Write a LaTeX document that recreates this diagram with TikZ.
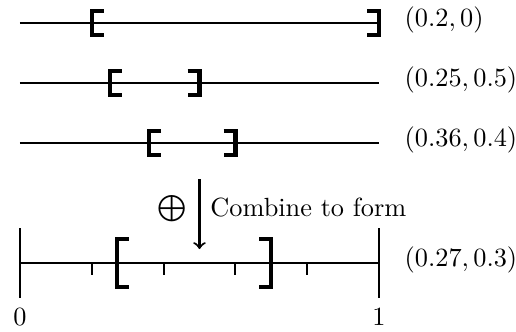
\documentclass[tikz,border=0pt]{standalone}
\newcommand{\lbrk}[3]{\draw[brk] (#1+0.033,#2+#3) -- (#1,#2+#3) -- (#1,#2-#3) -- (#1+0.033,#2-#3);}
\newcommand{\rbrk}[3]{\draw[brk] (#1-0.033,#2+#3) -- (#1,#2+#3) -- (#1,#2-#3) -- (#1-0.033,#2-#3);}
\begin{document}
\begin{tikzpicture}[x=4.796cm,y=1cm,
  seg/.style={thick},
  brk/.style={ultra thick},
  lbl/.style={anchor=west,inner sep=0pt,yshift=0.047cm}]
\useasboundingbox (-0.0557,-0.908) rectangle (1.3816,3.514);
% the three input intervals
\draw[seg] (0,3.206) -- (1,3.206);
\lbrk{0.2}{3.206}{0.158}
\rbrk{1}{3.206}{0.158}
\node[lbl] (l1) at (1.07,3.206) {$(0.2,0)$};
\draw[seg] (0,2.405) -- (1,2.405);
\lbrk{0.25}{2.405}{0.158}
\rbrk{0.5}{2.405}{0.158}
\node[lbl] (l2) at (1.07,2.405) {$(0.25,0.5)$};
\draw[seg] (0,1.603) -- (1,1.603);
\lbrk{0.36}{1.603}{0.158}
\rbrk{0.6}{1.603}{0.158}
\node[lbl] (l3) at (1.07,1.603) {$(0.36,0.4)$};
% combining arrow
\coordinate (arrtop) at (0.5,1.122);
\coordinate (arrtip) at (0.5,0.187);
\draw[seg,->] (arrtop) -- (arrtip);
\node (plus) at (0.4234,0.721) {$\bigoplus$};
\node[anchor=west,inner sep=0pt] (comb) at (0.529,0.748) {Combine to form};
% result on the unit interval
\coordinate (zero) at (0,0);
\coordinate (one) at (1,0);
\draw[seg] (zero) -- (one);
\draw[seg] (0,0.468) -- (0,-0.468) node[below] (n0) {0};
\draw[seg] (1,0.468) -- (1,-0.468) node[below] (n1) {1};
\foreach \t in {0.2,0.4,0.6,0.8}
  \draw[seg] (\t,0) -- (\t,-0.16);
\lbrk{0.27}{0}{0.321}
\rbrk{0.70}{0}{0.321}
\node[lbl] (l4) at (1.07,0) {$(0.27,0.3)$};
\end{tikzpicture}
\end{document}
